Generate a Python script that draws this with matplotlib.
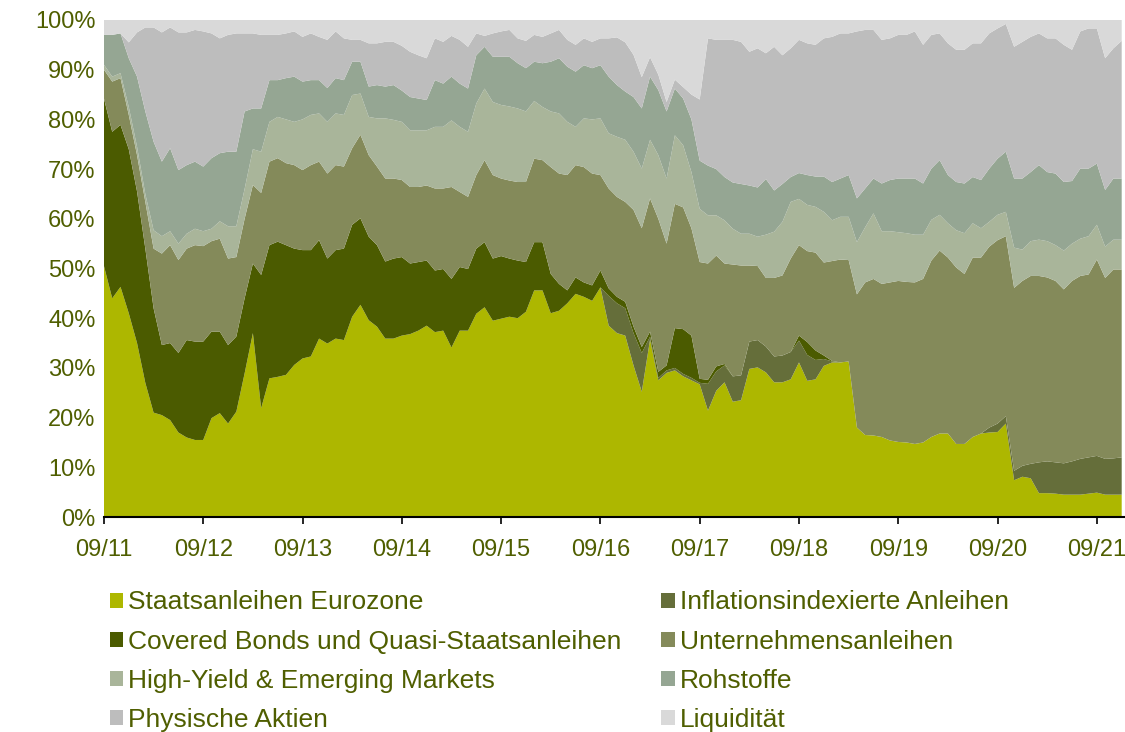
import numpy as np
import matplotlib.pyplot as plt
from matplotlib.patches import Patch

plt.rcParams['font.family'] = ['Liberation Sans', 'DejaVu Sans']

# monthly allocation in %, 09/2011 .. 12/2021 (one row per year)
months = np.arange(124)
tick_pos = np.arange(0, 121, 12)
tick_labels = ['09/11', '09/12', '09/13', '09/14', '09/15', '09/16',
               '09/17', '09/18', '09/19', '09/20', '09/21']

staatsanleihen = [
    50.5, 44.0, 46.3, 41.0, 35.0, 27.0, 21.0, 20.5, 19.5, 17.0, 16.0, 15.5,
    15.5, 19.9, 20.9, 18.8, 21.2, 28.9, 37.0, 21.9, 27.9, 28.2, 28.6, 30.6,
    31.9, 32.3, 35.9, 34.9, 35.9, 35.6, 40.3, 42.7, 39.6, 38.3, 35.9, 35.9,
    36.5, 36.8, 37.5, 38.5, 37.2, 37.5, 34.1, 37.5, 37.5, 40.9, 42.2, 39.5,
    39.9, 40.3, 40.0, 41.3, 45.6, 45.6, 41.0, 41.5, 43.0, 44.9, 44.3, 43.5,
    46.2, 38.5, 37.0, 36.5, 30.5, 25.2, 35.7, 27.5, 29.0, 29.5, 28.3, 27.5,
    26.7, 21.4, 25.4, 27.1, 23.2, 23.5, 29.8, 30.1, 29.1, 27.1, 27.1, 27.7,
    31.1, 27.4, 27.7, 30.4, 31.1, 31.1, 31.3, 18.0, 16.5, 16.4, 16.1, 15.4,
    15.1, 15.0, 14.7, 15.0, 16.1, 16.8, 16.8, 14.7, 14.7, 16.1, 16.8, 17.0,
    17.1, 18.8, 7.4, 8.1, 7.8, 4.8, 4.8, 4.7, 4.5, 4.5, 4.5, 4.7,
    4.9, 4.5, 4.5, 4.5]

inflation = [
    0, 0, 0, 0, 0, 0, 0, 0, 0, 0, 0, 0,
    0, 0, 0, 0, 0, 0, 0, 0, 0, 0, 0, 0,
    0, 0, 0, 0, 0, 0, 0, 0, 0, 0, 0, 0,
    0, 0, 0, 0, 0, 0, 0, 0, 0, 0, 0, 0,
    0, 0, 0, 0, 0, 0, 0, 0, 0, 0, 0, 0,
    0.0, 6.0, 6.0, 5.5, 6.5, 7.8, 0.6, 0.5, 0.5, 0.5, 0.5, 0.5,
    0.3, 5.4, 3.9, 3.4, 5.1, 5.0, 5.5, 5.5, 5.2, 5.2, 5.4, 5.5,
    4.4, 5.2, 3.9, 1.4, 0.2, 0, 0, 0, 0, 0, 0, 0,
    0, 0, 0, 0, 0, 0, 0, 0, 0, 0, 0, 1.0,
    1.7, 1.5, 1.9, 2.2, 2.9, 6.2, 6.4, 6.3, 6.3, 6.7, 7.2, 7.3,
    7.4, 7.2, 7.3, 7.5]

covered = [
    33.7, 33.5, 32.6, 33.0, 30.5, 27.0, 21.0, 14.1, 15.5, 16.0, 19.6, 19.8,
    19.8, 17.4, 16.4, 15.8, 15.1, 15.1, 14.0, 26.8, 26.8, 27.2, 26.1, 23.4,
    21.8, 21.4, 19.8, 17.1, 17.8, 18.4, 18.5, 17.4, 16.8, 16.4, 15.5, 16.1,
    15.8, 14.2, 13.8, 13.1, 12.4, 12.4, 13.8, 12.8, 12.4, 13.1, 13.1, 12.5,
    12.6, 11.7, 11.6, 10.0, 9.7, 9.7, 7.9, 5.4, 2.6, 3.3, 2.9, 3.1,
    3.4, 1.5, 1.3, 1.3, 1.3, 1.2, 1.0, 1.2, 1.0, 8.0, 9.0, 8.5,
    0.8, 0.8, 1.0, 0.3, 0, 0, 0, 0, 0, 0, 0, 0,
    1.0, 2.6, 1.9, 0.7, 0.1, 0, 0, 0, 0, 0, 0, 0,
    0, 0, 0, 0, 0, 0, 0, 0, 0, 0, 0, 0,
    0, 0, 0, 0, 0, 0, 0, 0, 0, 0, 0, 0,
    0, 0, 0, 0]

unternehmen = [
    5.8, 10.1, 9.4, 6.9, 7.3, 9.4, 12.0, 18.4, 19.7, 18.7, 18.4, 19.4,
    19.2, 18.2, 18.7, 17.4, 16.0, 16.0, 15.8, 16.5, 16.8, 16.8, 16.5, 16.8,
    16.1, 17.1, 15.8, 17.1, 17.1, 16.5, 15.4, 16.8, 16.4, 15.8, 16.7, 16.1,
    15.5, 15.4, 15.1, 15.1, 16.5, 16.2, 18.5, 15.1, 14.5, 14.8, 16.5, 16.8,
    15.6, 15.7, 15.8, 16.1, 16.8, 16.5, 21.5, 22.2, 23.2, 22.6, 23.2, 22.5,
    19.2, 20.1, 20.1, 20.1, 23.5, 23.9, 26.8, 30.8, 24.5, 25.0, 24.5, 21.6,
    23.5, 23.4, 22.3, 20.2, 22.5, 22.1, 15.3, 14.9, 13.8, 15.8, 16.1, 18.8,
    18.2, 18.3, 19.7, 18.7, 20.1, 20.7, 20.4, 26.8, 30.7, 31.5, 30.8, 31.8,
    32.4, 32.3, 32.5, 32.9, 35.5, 36.8, 35.4, 35.5, 34.2, 36.1, 35.4, 36.4,
    36.9, 36.2, 36.8, 37.2, 37.8, 37.5, 37.0, 36.5, 35.0, 36.3, 36.8, 36.8,
    39.5, 36.4, 38.0, 37.8]

high_yield = [
    1.0, 1.0, 1.0, 1.6, 1.7, 1.6, 3.7, 3.5, 2.8, 3.3, 3.0, 3.3,
    3.0, 2.5, 3.5, 6.5, 6.2, 6.0, 7.2, 8.3, 8.0, 8.3, 8.8, 8.7,
    10.2, 10.1, 9.7, 10.4, 10.4, 10.4, 10.7, 8.3, 7.7, 9.7, 12.1, 11.8,
    11.7, 11.4, 11.4, 11.1, 12.4, 12.4, 13.4, 13.1, 13.1, 14.4, 14.4, 14.7,
    14.8, 14.9, 14.8, 14.2, 11.6, 10.7, 11.2, 12.1, 10.7, 7.7, 9.8, 10.9,
    11.4, 11.1, 12.1, 12.5, 11.7, 12.0, 11.8, 12.8, 13.1, 13.8, 12.5, 11.3,
    10.7, 9.7, 8.1, 8.7, 7.2, 6.4, 6.4, 5.9, 8.7, 9.3, 10.8, 11.4,
    9.3, 9.3, 9.2, 10.2, 8.2, 8.6, 8.7, 10.5, 11.1, 13.2, 10.6, 10.3,
    9.8, 9.8, 9.6, 8.9, 8.2, 7.2, 6.9, 7.5, 8.2, 6.9, 5.9, 5.0,
    5.1, 4.9, 8.1, 6.3, 7.0, 7.3, 7.3, 7.2, 7.8, 7.5, 7.5, 7.7,
    7.0, 6.3, 6.0, 6.0]

rohstoffe = [
    6.0, 8.4, 8.0, 9.8, 14.1, 16.6, 17.8, 15.0, 16.7, 14.8, 13.8, 13.5,
    13.0, 14.2, 13.7, 15.0, 15.0, 15.6, 8.2, 8.7, 8.4, 7.4, 8.3, 9.1,
    7.6, 7.0, 6.7, 6.8, 7.1, 7.0, 6.7, 6.4, 6.1, 6.7, 6.4, 7.0,
    6.3, 6.7, 6.4, 6.1, 9.4, 8.7, 8.8, 8.7, 8.7, 9.7, 8.4, 9.1,
    9.7, 10.0, 9.1, 8.7, 7.9, 8.8, 10.0, 11.1, 11.1, 11.1, 10.7, 10.3,
    10.7, 11.4, 10.4, 9.7, 11.0, 12.1, 12.7, 13.1, 13.5, 9.4, 9.4, 10.6,
    9.7, 10.0, 9.3, 8.7, 9.3, 10.0, 9.7, 9.9, 11.2, 8.3, 7.6, 5.0,
    5.2, 6.0, 6.1, 7.1, 7.7, 7.7, 8.4, 8.8, 7.8, 7.0, 9.6, 10.3,
    10.8, 11.0, 11.3, 10.3, 10.3, 11.0, 9.7, 9.7, 10.0, 9.3, 9.7, 10.7,
    11.3, 12.1, 13.9, 14.3, 13.9, 15.0, 13.9, 14.4, 13.8, 12.6, 14.1, 13.6,
    12.3, 11.4, 12.3, 12.3]

aktien = [
    0.0, 0.0, 0.0, 3.2, 8.9, 16.9, 23.0, 26.0, 24.3, 27.7, 26.7, 26.5,
    27.2, 25.1, 23.1, 23.5, 23.8, 15.7, 15.1, 14.8, 9.1, 9.1, 9.0, 9.1,
    9.0, 9.4, 8.7, 9.7, 9.4, 8.4, 4.4, 4.4, 8.7, 8.4, 9.0, 8.7,
    9.0, 9.1, 8.7, 8.4, 8.4, 8.4, 8.2, 8.8, 8.4, 4.4, 2.2, 4.7,
    5.1, 5.4, 5.0, 5.5, 5.4, 5.3, 5.7, 5.7, 5.4, 5.4, 5.4, 5.3,
    5.4, 7.7, 9.6, 9.9, 8.5, 6.3, 3.9, 3.1, 1.9, 1.8, 2.3, 5.0,
    12.3, 25.6, 26.0, 27.6, 28.7, 28.6, 26.9, 28.0, 25.3, 28.9, 25.9, 25.9,
    26.8, 26.5, 26.5, 27.8, 29.2, 29.2, 28.5, 33.6, 31.9, 29.9, 28.9, 28.5,
    28.9, 28.9, 29.6, 27.9, 26.9, 25.5, 26.5, 26.6, 26.9, 26.9, 27.5, 27.2,
    26.2, 25.7, 26.5, 27.5, 27.2, 26.5, 26.9, 27.2, 27.6, 26.4, 27.6, 28.2,
    27.2, 26.5, 26.2, 27.7]

liquiditaet = [
    3.0, 3.0, 2.7, 4.5, 2.5, 1.5, 1.5, 2.5, 1.5, 2.5, 2.5, 2.0,
    2.3, 2.7, 3.7, 3.0, 2.7, 2.7, 2.7, 3.0, 3.0, 3.0, 2.7, 2.3,
    3.4, 2.7, 3.4, 4.0, 2.3, 3.7, 4.0, 4.0, 4.7, 4.7, 4.4, 4.4,
    5.2, 6.4, 7.1, 7.7, 3.7, 4.4, 3.2, 4.0, 5.4, 2.7, 3.2, 2.7,
    2.3, 2.0, 3.7, 4.2, 3.0, 3.4, 2.7, 2.0, 4.0, 5.0, 3.7, 4.4,
    3.7, 3.7, 3.5, 4.5, 7.0, 11.5, 7.5, 11.0, 16.5, 12.0, 13.5, 15.0,
    16.0, 3.7, 4.0, 4.0, 4.0, 4.4, 6.4, 5.7, 6.7, 5.4, 7.1, 5.7,
    4.0, 4.7, 5.0, 3.7, 3.4, 2.7, 2.7, 2.3, 2.0, 2.0, 4.0, 3.7,
    3.0, 3.0, 2.3, 5.0, 3.0, 2.7, 4.7, 6.0, 6.0, 4.7, 4.7, 2.7,
    1.7, 0.8, 5.4, 4.4, 3.4, 2.7, 3.7, 3.7, 5.0, 6.0, 2.3, 1.7,
    1.7, 7.7, 5.7, 4.2]

labels = ['Staatsanleihen Eurozone', 'Inflationsindexierte Anleihen',
          'Covered Bonds und Quasi-Staatsanleihen', 'Unternehmensanleihen',
          'High-Yield & Emerging Markets', 'Rohstoffe',
          'Physische Aktien', 'Liquidität']
colors = ['#ADB700', '#656E3A', '#4B5B00', '#848A5A',
          '#A9B59A', '#95A693', '#BDBDBD', '#D9D9D9']
series = [staatsanleihen, inflation, covered, unternehmen,
          high_yield, rohstoffe, aktien, liquiditaet]
text_color = '#4F5E00'

fig = plt.figure(figsize=(11.25, 7.32), dpi=100)
ax = fig.add_axes([0.0924, 0.2937, 0.9076, 0.679])

ax.stackplot(months, *series, colors=colors, linewidth=0)

ax.set_xlim(0, 123.4)
ax.set_ylim(0, 100)
ax.set_yticks(np.arange(0, 101, 10))
ax.set_yticklabels([f'{v}%' for v in range(0, 101, 10)])
ax.set_xticks(tick_pos)
ax.set_xticklabels(tick_labels)

for s in ['top', 'right', 'left']:
    ax.spines[s].set_visible(False)
ax.spines['bottom'].set_linewidth(1.5)
ax.tick_params(axis='y', length=0, pad=6, labelsize=17, labelcolor=text_color)
ax.tick_params(axis='x', direction='out', length=5, width=1.2, pad=11,
               labelsize=17, labelcolor=text_color)

# legend: 2 columns, row-wise order as in the original
order = [0, 2, 4, 6, 1, 3, 5, 7]
handles = [Patch(facecolor=colors[i], edgecolor='none', label=labels[i]) for i in order]
fig.legend(handles=handles, loc='upper left', bbox_to_anchor=(0.0978, 0.1934),
           ncol=2, frameon=False, fontsize=19, labelcolor=text_color,
           handlelength=0.5, handleheight=0.5, handletextpad=0.2,
           columnspacing=1.5, labelspacing=0.575, borderpad=0, borderaxespad=0)

fig.savefig('out.png', dpi=100)
